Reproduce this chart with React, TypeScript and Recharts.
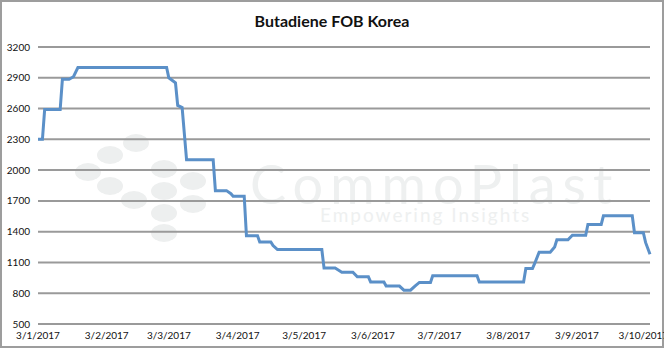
import React from 'react';
import { LineChart, Line, XAxis, YAxis, CartesianGrid } from 'recharts';

// weekly-ish price points (USD/t)
const dates = [
    '2017-01-03', '2017-01-05', '2017-01-06', '2017-01-13', '2017-01-14', '2017-01-17', '2017-01-19', '2017-01-21',
    '2017-03-02', '2017-03-03', '2017-03-06', '2017-03-07', '2017-03-09', '2017-03-11', '2017-03-23', '2017-03-24',
    '2017-03-29', '2017-03-31', '2017-04-01', '2017-04-06', '2017-04-07', '2017-04-12', '2017-04-13', '2017-04-18',
    '2017-04-19', '2017-04-21', '2017-05-11', '2017-05-12', '2017-05-17', '2017-05-20', '2017-05-25', '2017-05-27',
    '2017-06-01', '2017-06-02', '2017-06-08', '2017-06-09', '2017-06-15', '2017-06-17', '2017-06-20', '2017-06-22',
    '2017-06-24', '2017-06-29', '2017-06-30', '2017-07-20', '2017-07-21', '2017-08-10', '2017-08-11', '2017-08-14',
    '2017-08-15', '2017-08-17', '2017-08-22', '2017-08-24', '2017-08-25', '2017-08-30', '2017-09-01', '2017-09-07',
    '2017-09-08', '2017-09-14', '2017-09-15', '2017-09-28', '2017-09-29', '2017-10-03', '2017-10-04', '2017-10-06',
];
const prices = [
    2300, 2300, 2590, 2590, 2885, 2885, 2910, 3000,
    3000, 2900, 2850, 2630, 2610, 2100, 2100, 1800,
    1800, 1770, 1745, 1745, 1360, 1360, 1300, 1300,
    1265, 1225, 1225, 1045, 1045, 1005, 1005, 960,
    960, 910, 910, 870, 870, 830, 830, 870,
    905, 905, 970, 970, 910, 910, 1040, 1040,
    1090, 1200, 1200, 1250, 1320, 1320, 1365, 1365,
    1470, 1470, 1555, 1555, 1390, 1390, 1295, 1180,
];
const tickDates = [
    '2017-01-03', '2017-02-03', '2017-03-03', '2017-04-03', '2017-05-03',
    '2017-06-03', '2017-07-03', '2017-08-03', '2017-09-03', '2017-10-03',
];
const priceTicks = [500, 800, 1100, 1400, 1700, 2000, 2300, 2600, 2900, 3200];

const toTime = (s: string) => new Date(s + 'T00:00:00Z').getTime();

const data = dates.map((d, i) => ({ t: toTime(d), price: prices[i] }));
const xTicks = tickDates.map(toTime);

const formatDate = (v: number) => {
    const d = new Date(v);
    return `${d.getUTCDate()}/${d.getUTCMonth() + 1}/${d.getUTCFullYear()}`;
};

// faint logo dots of the watermark
const logoDots = [
    [136, 143], [110, 155], [88, 172], [164, 169], [110, 186], [193, 181],
    [164, 191], [134, 200], [193, 204], [164, 213], [164, 233],
];

const font = 'Lato, "Open Sans", sans-serif';

const App: React.FC = () => {
    return (
        <div style={{ position: 'absolute', left: 0, top: 0, width: 664, height: 352, background: '#fff', fontFamily: font }}>
            <svg width={664} height={352} style={{ position: 'absolute', left: 0, top: 0 }}>
                {logoDots.map(([cx, cy], i) => (
                    <ellipse key={i} cx={cx} cy={cy} rx={13} ry={9} fill="#edefef" />
                ))}
                <text x={250} y={204} fontSize={54} letterSpacing={7} fill="#eef0f0" fontFamily={font}>CommoPlast</text>
                <text x={320} y={222} fontSize={19} letterSpacing={2} fill="#eef0f0" fontFamily={font}>Empowering Insights</text>
            </svg>
            <div style={{ position: 'absolute', left: 0, top: 0, width: 660, height: 344, border: '2px solid #9d9d9d' }} />
            <div style={{ position: 'absolute', left: 0, top: 11, width: 664, textAlign: 'center', fontSize: 16, fontWeight: 700, color: '#111' }}>
                Butadiene FOB Korea
            </div>
            <div style={{ position: 'absolute', left: 0, top: 0 }}>
                <LineChart width={664} height={352} data={data} margin={{ top: 47, right: 14, left: 8, bottom: 8 }}>
                    <CartesianGrid vertical={false} stroke="#9a9a9a" strokeWidth={2} />
                    <XAxis
                        dataKey="t"
                        type="number"
                        domain={[toTime('2017-01-03'), toTime('2017-10-06')]}
                        ticks={xTicks}
                        tickFormatter={formatDate}
                        axisLine={false}
                        tickLine={false}
                        interval={0}
                        height={20}
                        tick={{ fill: '#111', fontSize: 10, fontFamily: font }}
                    />
                    <YAxis
                        domain={[500, 3200]}
                        ticks={priceTicks}
                        axisLine={false}
                        tickLine={false}
                        interval={0}
                        width={30}
                        tick={{ fill: '#111', fontSize: 10, fontFamily: font }}
                    />
                    <Line
                        type="linear"
                        dataKey="price"
                        stroke="#5b90c8"
                        strokeWidth={3}
                        dot={false}
                        isAnimationActive={false}
                    />
                </LineChart>
            </div>
        </div>
    );
};

export default App;
